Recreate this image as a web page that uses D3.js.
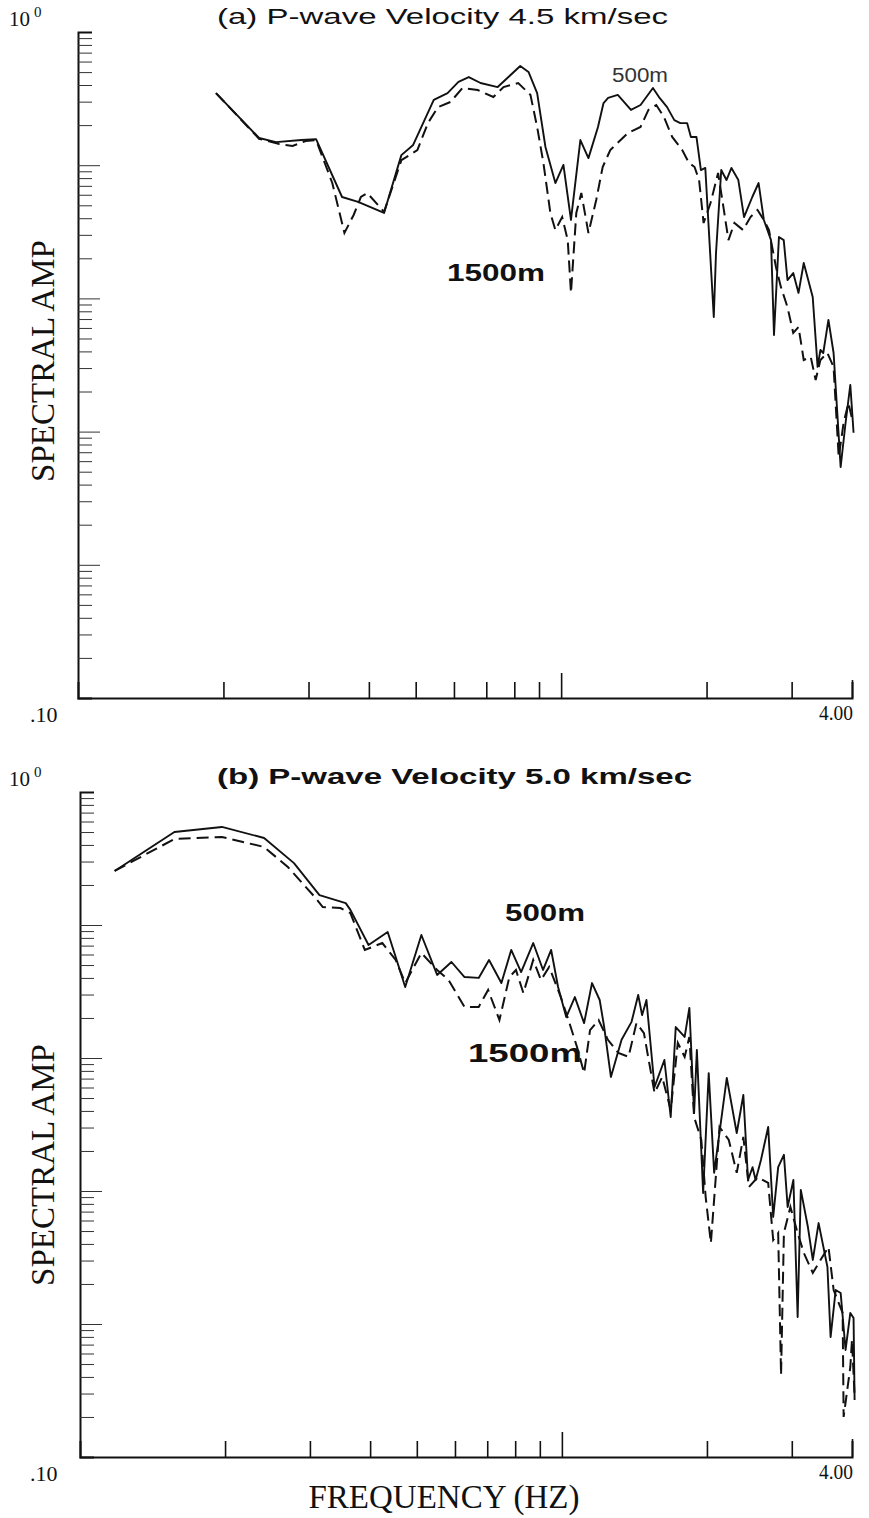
<!DOCTYPE html>
<html><head><meta charset="utf-8">
<script src="https://cdn.jsdelivr.net/npm/d3@7"></script>
<style>body{margin:0;background:#fff}svg{display:block}</style>
</head><body><svg id="c" width="869" height="1518"></svg>
<script>
// ---- data (frequency Hz, spectral amplitude) ----
const freqTicks = [0.2,0.3,0.4,0.5,0.6,0.7,0.8,0.9,1.0,2.0,3.0,4.0];
const freqDomain = [0.1, 4.0];
const ampDomain = [1, 1e-5];
const panelTitles = ["(a)  P-wave Velocity 4.5 km/sec", "(b)  P-wave Velocity 5.0 km/sec"];
const seriesNames = ["500m", "1500m"];

const panelA_500m = [[0.193,0.348],[0.237,0.160],[0.257,0.149],[0.290,0.1545],[0.311,0.157],[0.352,0.0577],[0.380,0.0530],[0.430,0.0438],[0.467,0.119],[0.494,0.142],[0.545,0.309],[0.582,0.348],[0.613,0.422],[0.644,0.459],[0.681,0.414],[0.739,0.386],[0.774,0.452],[0.823,0.556],[0.856,0.501],[0.892,0.348],[0.928,0.137],[0.973,0.0735],[1.011,0.1005],[1.048,0.0388],[1.096,0.1545],[1.139,0.113],[1.192,0.1936],[1.224,0.293],[1.251,0.320],[1.31,0.337],[1.395,0.260],[1.46,0.283],[1.549,0.380],[1.599,0.320],[1.657,0.273],[1.715,0.218],[1.765,0.207],[1.823,0.207],[1.856,0.163],[1.906,0.163],[1.947,0.092],[1.988,0.0953],[2.07,0.00725],[2.092,0.0219],[2.145,0.092],[2.199,0.0774],[2.252,0.0953],[2.327,0.0774],[2.391,0.0408],[2.487,0.0577],[2.563,0.0735],[2.628,0.0388],[2.719,0.0274],[2.758,0.00531],[2.824,0.0289],[2.889,0.0274],[2.941,0.01374],[3.023,0.0155],[3.10,0.0110],[3.178,0.01845],[3.317,0.01025],[3.395,0.00306],[3.441,0.0041],[3.488,0.00389],[3.575,0.00689],[3.664,0.00389],[3.789,0.000542],[3.879,0.00116],[3.968,0.00224],[4.03,0.00098]];

const panelA_1500m = [[0.193,0.348],[0.237,0.158],[0.261,0.144],[0.278,0.1394],[0.296,0.152],[0.311,0.1545],[0.336,0.0735],[0.356,0.031],[0.372,0.0423],[0.385,0.0577],[0.397,0.0618],[0.430,0.0446],[0.467,0.109],[0.504,0.130],[0.530,0.207],[0.556,0.273],[0.59,0.298],[0.625,0.380],[0.672,0.367],[0.724,0.325],[0.76,0.386],[0.815,0.414],[0.864,0.337],[0.892,0.1936],[0.919,0.104],[0.95,0.0438],[0.973,0.0326],[1.005,0.0408],[1.032,0.0274],[1.048,0.0110],[1.075,0.0438],[1.101,0.0618],[1.139,0.031],[1.182,0.0548],[1.219,0.0969],[1.264,0.130],[1.375,0.1745],[1.46,0.1936],[1.516,0.260],[1.574,0.283],[1.632,0.230],[1.698,0.163],[1.781,0.130],[1.839,0.104],[1.889,0.0969],[1.93,0.0774],[1.972,0.0368],[2.038,0.052],[2.113,0.0874],[2.167,0.0486],[2.22,0.0274],[2.284,0.0368],[2.38,0.0326],[2.466,0.0408],[2.55,0.0461],[2.628,0.0388],[2.693,0.0326],[2.784,0.0172],[2.85,0.0122],[2.941,0.0086],[3.023,0.0055],[3.10,0.0061],[3.178,0.00345],[3.286,0.00363],[3.364,0.00244],[3.441,0.00345],[3.557,0.00389],[3.664,0.00306],[3.754,0.000644],[3.843,0.00116],[3.932,0.00164],[4.02,0.00116]];

const panelB_500m = [[0.118,0.255],[0.157,0.500],[0.197,0.546],[0.241,0.451],[0.278,0.292],[0.314,0.168],[0.356,0.146],[0.364,0.130],[0.397,0.0708],[0.435,0.0886],[0.452,0.0574],[0.473,0.0342],[0.511,0.0841],[0.551,0.0421],[0.59,0.0527],[0.628,0.0406],[0.672,0.040],[0.706,0.0546],[0.749,0.0366],[0.785,0.0649],[0.823,0.0443],[0.872,0.0732],[0.914,0.0459],[0.95,0.0649],[0.982,0.0342],[1.021,0.0203],[1.064,0.0287],[1.112,0.0183],[1.155,0.0366],[1.198,0.0273],[1.224,0.0171],[1.264,0.0072],[1.33,0.0137],[1.395,0.0187],[1.44,0.0298],[1.467,0.0210],[1.498,0.0273],[1.557,0.00605],[1.632,0.00966],[1.682,0.0036],[1.723,0.0171],[1.798,0.0144],[1.839,0.0238],[1.881,0.00386],[1.906,0.0115],[1.964,0.000966],[2.017,0.0077],[2.07,0.00137],[2.199,0.00708],[2.306,0.00273],[2.38,0.00527],[2.434,0.00121],[2.487,0.00151],[2.524,0.00121],[2.589,0.00171],[2.68,0.00303],[2.745,0.000638],[2.811,0.00151],[2.889,0.00187],[2.941,0.000759],[3.023,0.00121],[3.085,0.000113],[3.132,0.00102],[3.24,0.000536],[3.317,0.000303],[3.41,0.000574],[3.557,0.000268],[3.611,0.0000798],[3.70,0.00018],[3.789,0.000171],[3.879,0.0000638],[3.968,0.000121],[4.03,0.000111],[4.05,0.0000268]];

const panelB_1500m = [[0.118,0.255],[0.157,0.443],[0.197,0.459],[0.241,0.386],[0.27,0.273],[0.307,0.1625],[0.319,0.1365],[0.347,0.134],[0.364,0.123],[0.39,0.0649],[0.424,0.0732],[0.452,0.0546],[0.473,0.0366],[0.511,0.0616],[0.551,0.0459],[0.582,0.0386],[0.628,0.0242],[0.672,0.0242],[0.703,0.0325],[0.742,0.0193],[0.778,0.0406],[0.803,0.0459],[0.832,0.0308],[0.872,0.0546],[0.905,0.0386],[0.941,0.0483],[0.995,0.0287],[1.032,0.0193],[1.075,0.0121],[1.112,0.0077],[1.144,0.0162],[1.192,0.0193],[1.246,0.0137],[1.31,0.0109],[1.375,0.0102],[1.428,0.0183],[1.48,0.0154],[1.557,0.00546],[1.615,0.0072],[1.682,0.00407],[1.74,0.013],[1.798,0.0102],[1.839,0.0144],[1.881,0.0036],[1.947,0.00242],[1.988,0.00090],[2.038,0.000406],[2.124,0.00303],[2.22,0.00242],[2.306,0.00137],[2.38,0.00255],[2.444,0.00107],[2.55,0.00127],[2.68,0.00115],[2.745,0.000428],[2.811,0.000483],[2.85,0.0000414],[2.889,0.000483],[2.98,0.000759],[3.085,0.000483],[3.178,0.000342],[3.317,0.000242],[3.441,0.000303],[3.575,0.000379],[3.664,0.00018],[3.825,0.000121],[3.843,0.00002],[3.968,0.0000475],[4.0,0.0000759],[4.05,0.0000283]];

const panels = [
  {title: panelTitles[0], s500: panelA_500m, s1500: panelA_1500m, x0: 78, x1: 852, y0: 32, y1: 698, boldTitle: false, ampCenter: 361,
   lab500: {x: 612, y: 82, w: 56, bold: false, size: 20}, lab1500: {x: 447, y: 281, w: 98, bold: true, size: 23}},
  {title: panelTitles[1], s500: panelB_500m, s1500: panelB_1500m, x0: 80, x1: 852, y0: 792, y1: 1457, boldTitle: true, ampCenter: 1165,
   lab500: {x: 505, y: 921, w: 80, bold: true, size: 24}, lab1500: {x: 468, y: 1062, w: 114, bold: true, size: 25}}
];

const svg = d3.select("#c");
const ink = "#111";

panels.forEach(p => {
  const x = d3.scaleLog().domain(freqDomain).range([p.x0, p.x1]);
  const y = d3.scaleLog().domain(ampDomain).range([p.y0, p.y1]);
  const g = svg.append("g");

  // y ticks (log minor ticks)
  const yt = [];
  for (let e = -5; e < 0; e++) for (let k = 1; k <= 9; k++) yt.push(k * Math.pow(10, e));
  const yAxis = d3.axisLeft(y).tickValues(yt).tickSizeOuter(0).tickFormat("").tickSize(-14);
  const ya = g.append("g").attr("transform", `translate(${p.x0},0)`).call(yAxis);
  ya.selectAll(".tick line").attr("stroke", "#333").attr("stroke-width", 1)
    .attr("x2", d => Math.abs(Math.log10(d) - Math.round(Math.log10(d))) < 1e-9 ? 22 : 14);
  ya.select(".domain").attr("stroke", ink).attr("stroke-width", 2);

  // x ticks
  const xAxis = d3.axisBottom(x).tickValues(freqTicks).tickSizeOuter(0).tickFormat("").tickSize(-16);
  const xa = g.append("g").attr("transform", `translate(0,${p.y1})`).call(xAxis);
  xa.selectAll(".tick line").attr("stroke", ink).attr("stroke-width", 1.6)
    .attr("y2", d => d === 1.0 ? -25 : (d === 4.0 ? -18 : -16));
  xa.select(".domain").attr("stroke", ink).attr("stroke-width", 2);

  // curves
  const line = d3.line().x(d => x(d[0])).y(d => y(d[1]));
  g.append("path").datum(p.s500).attr("d", line).attr("fill", "none")
    .attr("stroke", ink).attr("stroke-width", 1.9).attr("stroke-linejoin", "round");
  g.append("path").datum(p.s1500).attr("d", line).attr("fill", "none")
    .attr("stroke", ink).attr("stroke-width", 2).attr("stroke-dasharray", "12,6");

  // title
  g.append("text").attr("x", 217).attr("y", p.y0 - 8)
    .attr("font-family", "Liberation Sans, Arial, sans-serif").attr("font-size", 22)
    .attr("font-weight", p.boldTitle ? "bold" : "normal")
    .attr("textLength", p.boldTitle ? 475 : 451).attr("lengthAdjust", "spacingAndGlyphs")
    .attr("fill", ink).text(p.title);

  // series labels
  [[p.lab500, seriesNames[0]], [p.lab1500, seriesNames[1]]].forEach(([L, t]) => {
    g.append("text").attr("x", L.x).attr("y", L.y)
      .attr("font-family", "Liberation Sans, Arial, sans-serif").attr("font-size", L.size)
      .attr("font-weight", L.bold ? "bold" : "normal").attr("fill", L.bold ? ink : "#333")
      .attr("textLength", L.w).attr("lengthAdjust", "spacingAndGlyphs").text(t);
  });

  // y-axis top label 10^0
  const t0 = g.append("text").attr("x", 9).attr("y", p.y0 - 6)
    .attr("font-family", "Liberation Serif, Times New Roman, serif").attr("font-size", 21).attr("fill", ink);
  t0.append("tspan").text("10");
  t0.append("tspan").attr("dx", 4).attr("dy", -9).attr("font-size", 15).text("0");

  // x end labels
  g.append("text").attr("x", 30).attr("y", p.y1 + 24)
    .attr("font-family", "Liberation Serif, Times New Roman, serif").attr("font-size", 22).attr("fill", ink).text(".10");
  g.append("text").attr("x", 853).attr("y", p.y1 + 22).attr("text-anchor", "end")
    .attr("font-family", "Liberation Serif, Times New Roman, serif").attr("font-size", 22).attr("fill", ink)
    .attr("textLength", 34).attr("lengthAdjust", "spacingAndGlyphs").text("4.00");

  // y axis title
  g.append("text").attr("transform", `translate(54,${p.ampCenter}) rotate(-90)`).attr("text-anchor", "middle")
    .attr("font-family", "Liberation Serif, Times New Roman, serif").attr("font-size", 33).attr("fill", ink)
    .text("SPECTRAL AMP");
});

svg.append("text").attr("x", 444).attr("y", 1508).attr("text-anchor", "middle")
  .attr("font-family", "Liberation Serif, Times New Roman, serif").attr("font-size", 33).attr("fill", ink)
  .text("FREQUENCY (HZ)");
</script></body></html>
